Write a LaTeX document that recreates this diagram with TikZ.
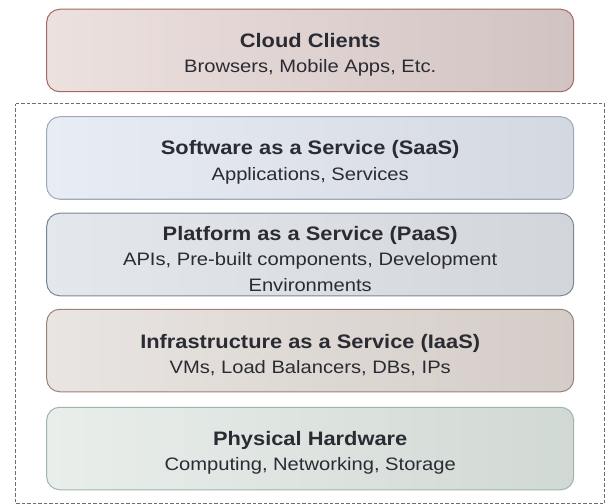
\documentclass[tikz,border=0pt]{standalone}
\usepackage{fontspec}
\setmainfont[FakeStretch=1.12]{Liberation Sans}
\definecolor{cloudL}{HTML}{EDE1E0}
\definecolor{cloudR}{HTML}{D0C3C1}
\definecolor{cloudB}{HTML}{A5695E}
\definecolor{saasL}{HTML}{E8ECF4}
\definecolor{saasR}{HTML}{D4D9E1}
\definecolor{saasB}{HTML}{9DAABE}
\definecolor{paasL}{HTML}{E4E7EB}
\definecolor{paasR}{HTML}{D2D6DA}
\definecolor{paasB}{HTML}{778797}
\definecolor{iaasL}{HTML}{E9E5E2}
\definecolor{iaasR}{HTML}{D4CCC7}
\definecolor{iaasB}{HTML}{9B8276}
\definecolor{hwL}{HTML}{E9EEEB}
\definecolor{hwR}{HTML}{D1D9D4}
\definecolor{hwB}{HTML}{A0B4AA}
\definecolor{txt}{HTML}{2B2B33}
\newcommand{\layertitle}[1]{{\fontsize{19.5bp}{25.5bp}\selectfont\bfseries\rule{0pt}{23bp}#1}}
\begin{document}
\begin{tikzpicture}[x=1bp, y=-1bp,
    layer/.style={draw, line width=1bp, rounded corners=13bp, minimum width=527bp,
      minimum height=82.5bp, align=center, text=txt,
      font=\fontsize{18bp}{25.5bp}\selectfont, inner sep=0pt},
    ]
        \useasboundingbox (0,0) rectangle (608,504);
        \draw[dashed, dash pattern=on 3.5bp off 2bp, line width=1bp, gray!85!black] (15.5,104) -- (604.5,104) -- (604.5,503.5) -- (15.5,503.5) -- cycle;
        \node[layer, draw=cloudB, left color=cloudL, right color=cloudR] (clients) at (310.2,50.5)
            {\layertitle{Cloud Clients}\\Browsers, Mobile Apps, Etc.};
        \node[layer, draw=saasB, left color=saasL, right color=saasR] (saas) at (310.2,158)
            {\layertitle{Software as a Service (SaaS)}\\Applications, Services};
        \node[layer, draw=paasB, left color=paasL, right color=paasR] (paas) at (310.2,254.5)
            {\layertitle{Platform as a Service (PaaS)}\\APIs, Pre-built components, Development\\Environments};
        \node[layer, draw=iaasB, left color=iaasL, right color=iaasR] (iaas) at (310.2,350.5)
            {\layertitle{Infrastructure as a Service (IaaS)}\\VMs, Load Balancers, DBs, IPs};
        \node[layer, draw=hwB, left color=hwL, right color=hwR] (hardware) at (310.2,448.5)
            {\layertitle{Physical Hardware}\\Computing, Networking, Storage};
        \end{tikzpicture}
\end{document}
